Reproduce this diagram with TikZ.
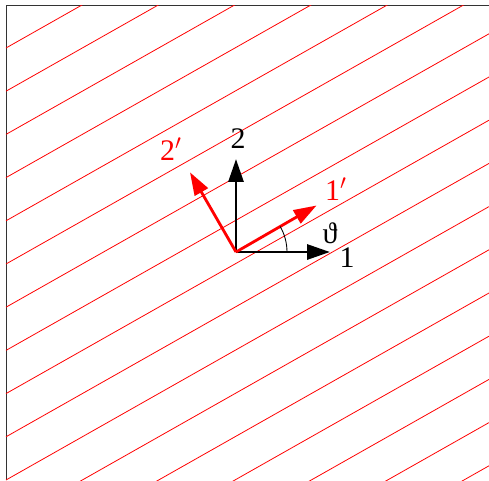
\documentclass[tikz,border=0pt]{standalone}
\usepackage{fontspec}
\setmainfont{Liberation Serif}
\usetikzlibrary{arrows.meta,calc}
\tikzset{
  axis/.style={line width=1.6pt,-{Triangle[length=13pt,width=8.5pt]}},
  lab/.style={font=\fontsize{17}{20}\selectfont,inner sep=0pt}
}
\begin{document}
\begin{tikzpicture}
  \useasboundingbox (0,0) rectangle (9.78,9.6);
  % frame (top and left only)
  \draw[line width=0.5pt,black!80] (0.12,0) -- (0.12,9.5) -- (9.78,9.5);
  % hatching
  \begin{scope}
    \clip (0.12,0) rectangle (9.78,9.5);
    \foreach \k in {0,...,16}
      \draw[red,line width=0.45pt] (0.12,8.64-0.864*\k) -- ++(9.66,5.468);
  \end{scope}
  % axes
  \coordinate (O) at (4.72,4.56);
  \coordinate (e1) at ($(O)+(0:1.88)$);
  \coordinate (e2) at ($(O)+(90:1.86)$);
  \coordinate (e1p) at ($(O)+(30:1.86)$);
  \coordinate (e2p) at ($(O)+(120:1.84)$);
  \draw[axis] (O) -- (e1);
  \draw[axis] (O) -- (e2);
  \draw[axis,red] (O) -- (e1p);
  \draw[axis,red] (O) -- (e2p);
  \draw[line width=0.5pt] ($(O)+(0:1.02)$) arc (0:30:1.02);
  \node[lab] (l1) at (6.94,4.44) {1};
  \node[lab] (l2) at (4.76,6.82) {2};
  \node[lab,red] (l1p) at (6.72,5.82) {1$^{\prime}$};
  \node[lab,red] (l2p) at (3.42,6.62) {2$^{\prime}$};
  \node[lab] (th) at (6.60,4.94) {ϑ};
\end{tikzpicture}
\end{document}
